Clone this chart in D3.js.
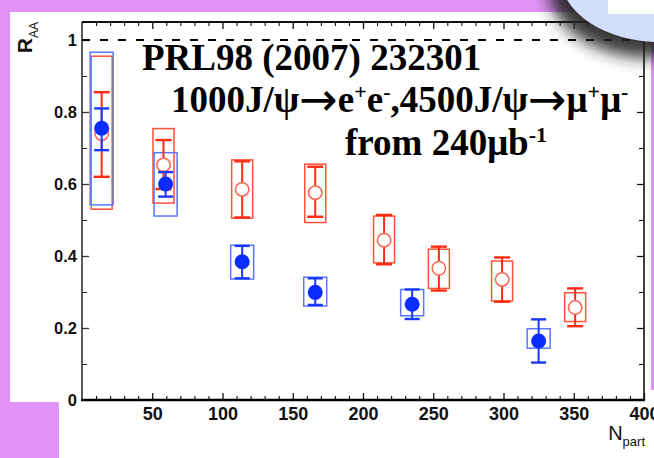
<!DOCTYPE html>
<html>
<head>
<meta charset="utf-8">
<script src="https://cdn.jsdelivr.net/npm/d3@7"></script>
<style>
  html, body { margin: 0; padding: 0; background: #fff; overflow: hidden; }
  svg { display: block; }
</style>
</head>
<body>
<svg id="chart" width="654" height="458"></svg>
<script>
// J/psi nuclear modification factor R_AA versus N_part, Au+Au at 200 GeV.
// Open red: J/psi -> e+e- (mid rapidity); filled blue: J/psi -> mu+mu- (forward).

// --- e+e- channel ---
const npartEE   = [14, 58, 114, 166, 215, 254, 299, 351];
const raaEE     = [0.74, 0.653, 0.585, 0.576, 0.444, 0.366, 0.335, 0.257];
const statHiEE  = [0.855, 0.722, 0.663, 0.648, 0.514, 0.426, 0.396, 0.31];
const statLoEE  = [0.62, 0.586, 0.507, 0.509, 0.377, 0.304, 0.273, 0.205];
const systHiEE  = [0.955, 0.754, 0.667, 0.655, 0.511, 0.419, 0.386, 0.298];
const systLoEE  = [0.53, 0.547, 0.505, 0.493, 0.381, 0.31, 0.275, 0.218];

// --- mu+mu- channel ---
const npartMM   = [14, 59.5, 114, 166, 235, 325];
const raaMM     = [0.755, 0.60, 0.384, 0.299, 0.266, 0.164];
const statHiMM  = [0.81, 0.633, 0.428, 0.338, 0.307, 0.224];
const statLoMM  = [0.694, 0.565, 0.338, 0.264, 0.225, 0.104];
const systHiMM  = [0.966, 0.687, 0.43, 0.341, 0.307, 0.198];
const systLoMM  = [0.542, 0.511, 0.336, 0.261, 0.234, 0.144];

// --- axes ---
const xMajorTicks = [50, 100, 150, 200, 250, 300, 350, 400];
const xMinorTicks = d3.range(10, 400, 10).filter(v => v % 50 !== 0);
const yMajorTicks = [0, 0.2, 0.4, 0.6, 0.8, 1];
const yMinorTicks = [0.1, 0.3, 0.5, 0.7, 0.9];
const yTickLabels = ["0", "0.2", "0.4", "0.6", "0.8", "1"];

const titleLines = ["PRL98 (2007) 232301"];

const svg = d3.select("#chart");
const W = 654, H = 458;
const PINK = "#e192f8";

const x = d3.scaleLinear().domain([0, 400]).range([82, 644]);
const y = d3.scaleLinear().domain([0, 1.05]).range([400, 22]);

// page background pieces
svg.append("rect").attr("width", W).attr("height", H).attr("fill", "#fff");
svg.append("rect").attr("x", 0).attr("y", 0).attr("width", W).attr("height", 12).attr("fill", PINK);
svg.append("rect").attr("x", 0).attr("y", 0).attr("width", 10).attr("height", 402).attr("fill", PINK);
svg.append("rect").attr("x", 651).attr("y", 0).attr("width", 3).attr("height", 390).attr("fill", PINK);

// ---- frame, ticks ----
const axisFont = "'Liberation Sans', Arial, Helvetica, sans-serif";

function styleAxis(g, width, color) {
  g.select(".domain").remove();
  g.selectAll(".tick line").attr("stroke", color || "#111").attr("stroke-width", width || 1.2);
}

// bottom
const gBottom = svg.append("g").attr("transform", `translate(0,${y(0)})`);
gBottom.call(d3.axisBottom(x).tickValues(xMajorTicks).tickSize(-7).tickSizeOuter(0).tickPadding(7)
  .tickFormat(d3.format("d")));
styleAxis(gBottom, 1.3);
gBottom.selectAll("text").attr("font-family", axisFont).attr("font-size", 18).attr("font-weight", "bold").attr("fill", "#111");
const gBottomMinor = svg.append("g").attr("transform", `translate(0,${y(0)})`);
gBottomMinor.call(d3.axisBottom(x).tickValues(xMinorTicks).tickSize(-4).tickFormat(""));
styleAxis(gBottomMinor, 1.1);

// top
const gTop = svg.append("g").attr("transform", `translate(0,${y(1.05)})`);
gTop.call(d3.axisTop(x).tickValues(xMajorTicks).tickSize(-7).tickFormat(""));
styleAxis(gTop, 1.3);
const gTopMinor = svg.append("g").attr("transform", `translate(0,${y(1.05)})`);
gTopMinor.call(d3.axisTop(x).tickValues(xMinorTicks).tickSize(-4).tickFormat(""));
styleAxis(gTopMinor, 1.1);

// left
const gLeft = svg.append("g").attr("transform", `translate(${x(0)},0)`);
gLeft.call(d3.axisLeft(y).tickValues(yMajorTicks).tickSize(-7).tickPadding(5)
  .tickFormat((d, i) => yTickLabels[i]));
styleAxis(gLeft, 1.3, "#333");
gLeft.selectAll(".tick").filter(d => d === 0).select("line").remove();
gLeft.selectAll("text").attr("font-family", axisFont).attr("font-size", 16.5).attr("font-weight", "bold").attr("fill", "#111");
const gLeftMinor = svg.append("g").attr("transform", `translate(${x(0)},0)`);
gLeftMinor.call(d3.axisLeft(y).tickValues(yMinorTicks).tickSize(-5).tickFormat(""));
styleAxis(gLeftMinor, 1.1, "#333");

// right
const gRight = svg.append("g").attr("transform", `translate(${x(400)},0)`);
gRight.call(d3.axisRight(y).tickValues(yMajorTicks.filter(v => v > 0 && v < 1)).tickSize(-7).tickFormat(""));
styleAxis(gRight, 1.3);
const gRightMinor = svg.append("g").attr("transform", `translate(${x(400)},0)`);
gRightMinor.call(d3.axisRight(y).tickValues(yMinorTicks).tickSize(-5).tickFormat(""));
styleAxis(gRightMinor, 1.1);

// frame lines
svg.append("line").attr("x1", x(0)).attr("x2", x(0)).attr("y1", y(1.05)).attr("y2", y(0))
  .attr("stroke", "#333").attr("stroke-width", 1.6);
svg.append("line").attr("x1", x(400)).attr("x2", x(400)).attr("y1", y(1.05)).attr("y2", y(0))
  .attr("stroke", "#111").attr("stroke-width", 1.6);
svg.append("line").attr("x1", x(0)).attr("x2", x(400)).attr("y1", y(1.05)).attr("y2", y(1.05))
  .attr("stroke", "#111").attr("stroke-width", 1.8);
svg.append("line").attr("x1", x(0) - 1).attr("x2", x(400) + 1).attr("y1", y(0)).attr("y2", y(0))
  .attr("stroke", "#000").attr("stroke-width", 2.6);

// R_AA = 1 reference
svg.append("line").attr("x1", x(0)).attr("x2", x(400)).attr("y1", y(1)).attr("y2", y(1))
  .attr("stroke", "#000").attr("stroke-width", 2).attr("stroke-dasharray", "8,10");

// axis titles
const yTitle = svg.append("text").attr("transform", `translate(32,${y(1.05)}) rotate(-90)`)
  .attr("text-anchor", "end").attr("font-family", axisFont).attr("fill", "#111");
yTitle.append("tspan").attr("font-size", 21).attr("font-weight", "bold").text("R");
yTitle.append("tspan").attr("font-size", 12).attr("dy", 6).text("AA");

const xTitle = svg.append("text").attr("x", 645).attr("y", 440)
  .attr("text-anchor", "end").attr("font-family", axisFont).attr("fill", "#111");
xTitle.append("tspan").attr("font-size", 20).text("N");
xTitle.append("tspan").attr("font-size", 13).attr("dy", 6).text("part");

// ---- data ----
const BOX_HW = 11.5, CAP_HW = 8, R_MARK = 7.5;
const RED_ERR = "#ff2a12", RED_BOX = "#ff5238", RED_MARK = "#ff6a58";
const BLUE_ERR = "#1838ff", BLUE_BOX = "#5a78ff", BLUE_MARK = "#0a2cff";

function rows(n, v, sh, sl, yh, yl) {
  return n.map((d, i) => ({ n: d, v: v[i], sh: sh[i], sl: sl[i], yh: yh[i], yl: yl[i] }));
}
const dataEE = rows(npartEE, raaEE, statHiEE, statLoEE, systHiEE, systLoEE);
const dataMM = rows(npartMM, raaMM, statHiMM, statLoMM, systHiMM, systLoMM);

function drawBoxes(data, color, width) {
  svg.append("g").selectAll("rect").data(data).join("rect")
    .attr("x", d => x(d.n) - width).attr("width", 2 * width)
    .attr("y", d => y(d.yh)).attr("height", d => y(d.yl) - y(d.yh))
    .attr("fill", "none").attr("stroke", color).attr("stroke-width", 1.5);
}
function drawErrors(data, color, capW) {
  const g = svg.append("g").attr("stroke", color);
  g.selectAll("line.v").data(data).join("line").attr("class", "v")
    .attr("x1", d => x(d.n)).attr("x2", d => x(d.n))
    .attr("y1", d => y(d.sh)).attr("y2", d => y(d.sl)).attr("stroke-width", 2);
  g.selectAll("line.hi").data(data).join("line").attr("class", "hi")
    .attr("x1", d => x(d.n) - capW).attr("x2", d => x(d.n) + capW)
    .attr("y1", d => y(d.sh)).attr("y2", d => y(d.sh)).attr("stroke-width", 2.4);
  g.selectAll("line.lo").data(data).join("line").attr("class", "lo")
    .attr("x1", d => x(d.n) - capW).attr("x2", d => x(d.n) + capW)
    .attr("y1", d => y(d.sl)).attr("y2", d => y(d.sl)).attr("stroke-width", 2.4);
}

drawBoxes(dataEE, RED_BOX, BOX_HW - 1);
drawBoxes(dataMM, BLUE_BOX, BOX_HW);
drawErrors(dataEE, RED_ERR, CAP_HW);
svg.append("g").selectAll("circle").data(dataEE).join("circle")
  .attr("cx", d => x(d.n)).attr("cy", d => y(d.v)).attr("r", R_MARK - 0.8)
  .attr("fill", "#fff").attr("stroke", RED_MARK).attr("stroke-width", 1.6);
drawErrors(dataMM, BLUE_ERR, CAP_HW - 0.5);
svg.append("g").selectAll("circle").data(dataMM).join("circle")
  .attr("cx", d => x(d.n)).attr("cy", d => y(d.v)).attr("r", R_MARK)
  .attr("fill", BLUE_MARK);

// ---- annotation ----
const serif = "'Liberation Serif', 'Times New Roman', Times, serif";
const arrowFont = "'DejaVu Sans', sans-serif";
svg.append("text").attr("x", 142).attr("y", 70)
  .attr("font-family", serif).attr("font-weight", "bold").attr("font-size", 37).attr("fill", "#000")
  .text(titleLines[0]);

const line2 = svg.append("text").attr("x", 171).attr("y", 112)
  .attr("font-family", serif).attr("font-weight", "bold").attr("font-size", 37).attr("fill", "#000");
function arrow(t) {
  t.append("tspan").attr("font-family", arrowFont).attr("font-weight", "normal")
    .attr("font-size", 46).attr("dy", 3).text("→");
}
line2.append("tspan").text("1000J/ψ");
arrow(line2);
line2.append("tspan").attr("dy", -3).text("e");
line2.append("tspan").attr("font-size", 22).attr("dy", -13).text("+");
line2.append("tspan").attr("dy", 13).text("e");
line2.append("tspan").attr("font-size", 22).attr("dy", -13).text("-");
line2.append("tspan").attr("dy", 13).text(",4500J/ψ");
arrow(line2);
line2.append("tspan").attr("dy", -3).text("μ");
line2.append("tspan").attr("font-size", 22).attr("dy", -13).text("+");
line2.append("tspan").attr("dy", 13).text("μ");
line2.append("tspan").attr("font-size", 22).attr("dy", -13).text("-");

const line3 = svg.append("text").attr("x", 345).attr("y", 155)
  .attr("font-family", serif).attr("font-weight", "bold").attr("font-size", 37).attr("fill", "#000");
line3.append("tspan").text("from 240μb");
line3.append("tspan").attr("font-size", 22).attr("dy", -13).text("-1");

// ---- page decorations: lower-left block and curled corner ----
svg.append("rect").attr("x", 0).attr("y", 402).attr("width", 59).attr("height", 56).attr("fill", PINK);

const defs = svg.append("defs");
defs.append("filter").attr("id", "curlShadow").attr("x", "-50%").attr("y", "-50%").attr("width", "200%").attr("height", "200%")
  .append("feGaussianBlur").attr("stdDeviation", 8);
svg.append("ellipse").attr("cx", 652).attr("cy", -14).attr("rx", 104).attr("ry", 72)
  .attr("fill", "#222").attr("opacity", 0.9).attr("filter", "url(#curlShadow)");
svg.append("ellipse").attr("cx", 660).attr("cy", -25).attr("rx", 100).attr("ry", 67)
  .attr("fill", "#d3dff8");
svg.append("rect").attr("x", 608).attr("y", 0).attr("width", 46).attr("height", 14).attr("fill", "#fff");
</script>
</body>
</html>
